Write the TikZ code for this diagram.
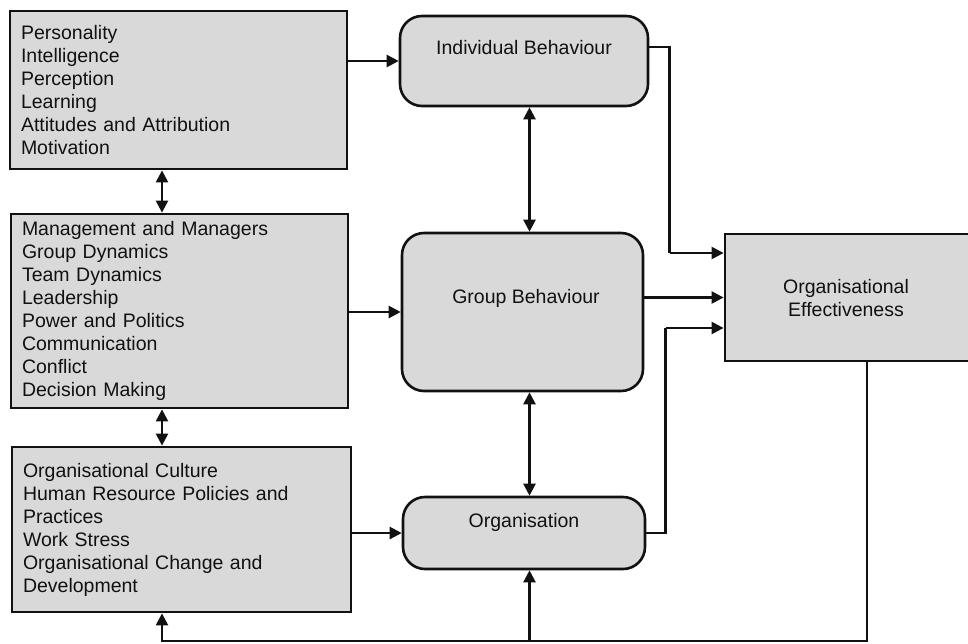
\documentclass[tikz,border=0pt]{standalone}
\usepackage{fontspec}
\setmainfont{Liberation Sans}
\usetikzlibrary{arrows.meta}
\definecolor{boxfill}{HTML}{D9D9D9}
\definecolor{ink}{HTML}{111111}
\begin{document}
\begin{tikzpicture}[x=1pt,y=-1pt,
  every node/.style={text=ink},
  topicbox/.style={draw=ink,fill=boxfill,line width=2.8pt,rectangle,
    inner xsep=11pt,inner ysep=0pt,align=left,
    font=\fontsize{19.5}{23}\selectfont},
  levelbox/.style={draw=ink,fill=boxfill,line width=2.6pt,rectangle,
    rounded corners=22pt,inner sep=0pt},
  caption/.style={font=\fontsize{19.5}{23}\selectfont,align=center,inner sep=0pt},
  link/.style={draw=ink,line width=2.3pt},
  arrow/.style={link,-{Triangle[length=12pt,width=12pt]}},
  twoway/.style={link,{Triangle[length=12pt,width=12pt]}-{Triangle[length=12pt,width=12pt]}}
]
\useasboundingbox (0,0) rectangle (968,643);

% left-hand column: topics studied at each level
\node[topicbox,minimum width=337pt,minimum height=158pt,text width=315pt] (A) at (178.5,90)
  {Personality\\Intelligence\\Perception\\Learning\\Attitudes and Attribution\\Motivation};
\node[topicbox,minimum width=337pt,minimum height=194pt,text width=315pt] (B) at (179.5,311)
  {Management and Managers\\Group Dynamics\\Team Dynamics\\Leadership\\Power and Politics\\Communication\\Conflict\\Decision Making};
\node[topicbox,minimum width=339pt,minimum height=165pt,text width=317pt] (C) at (181.5,529.5)
  {Organisational Culture\\Human Resource Policies and\\Practices\\Work Stress\\Organisational Change and\\Development};

% middle column: levels of analysis
\node[levelbox,minimum width=248pt,minimum height=90pt] (IB) at (524,61) {};
\node[caption] (IBt) at (524,48) {Individual Behaviour};
\node[levelbox,minimum width=241pt,minimum height=158pt] (GB) at (522.5,312) {};
\node[caption] (GBt) at (526,298) {Group Behaviour};
\node[levelbox,minimum width=242pt,minimum height=72pt] (Org) at (524,533) {};
\node[caption] (Orgt) at (524,522) {Organisation};

% outcome
\node[draw=ink,fill=boxfill,line width=2.8pt,rectangle,minimum width=247pt,minimum height=127pt] (OE) at (848.5,297.5) {};
\node[caption] (OEt) at (846,298) {Organisational\\Effectiveness};

% helper coordinates for the vertical runs
\coordinate (lx) at (162,0);
\coordinate (mx) at (529.5,0);
\coordinate (fbR) at (867,641);
\coordinate (fbL) at (162,641);

% topics feed each level
\draw[arrow] (A.east |- IB.west) -- (IB.west);
\draw[arrow] (B.east |- GB.west) -- (GB.west);
\draw[arrow] (C.east |- Org.west) -- (Org.west);

% links between the topic boxes
\draw[twoway] (lx |- A.south) -- (lx |- B.north);
\draw[twoway] (lx |- B.south) -- (lx |- C.north);

% links between the levels
\draw[twoway] (mx |- IB.south) -- (mx |- GB.north);
\draw[twoway] (mx |- GB.south) -- (mx |- Org.north);

% each level feeds organisational effectiveness
\draw[link] ([yshift=14pt]IB.east) -| ([xshift=-54pt,yshift=44.5pt]OE.west);
\draw[arrow] ([xshift=-54pt,yshift=44.5pt]OE.west) -- ([yshift=44.5pt]OE.west);
\draw[arrow] (GB.east |- OE.west) -- (OE.west);
\draw[link] (Org.east) -| ([xshift=-58pt,yshift=-30.5pt]OE.west);
\draw[arrow] ([xshift=-58pt,yshift=-30.5pt]OE.west) -- ([yshift=-30.5pt]OE.west);

% feedback loop along the bottom
\draw[arrow] (OE.south -| fbR) -- (fbR) -- (fbL) -- (fbL |- C.south);
\draw[arrow] (mx |- fbR) -- (mx |- Org.south);
\end{tikzpicture}
\end{document}
